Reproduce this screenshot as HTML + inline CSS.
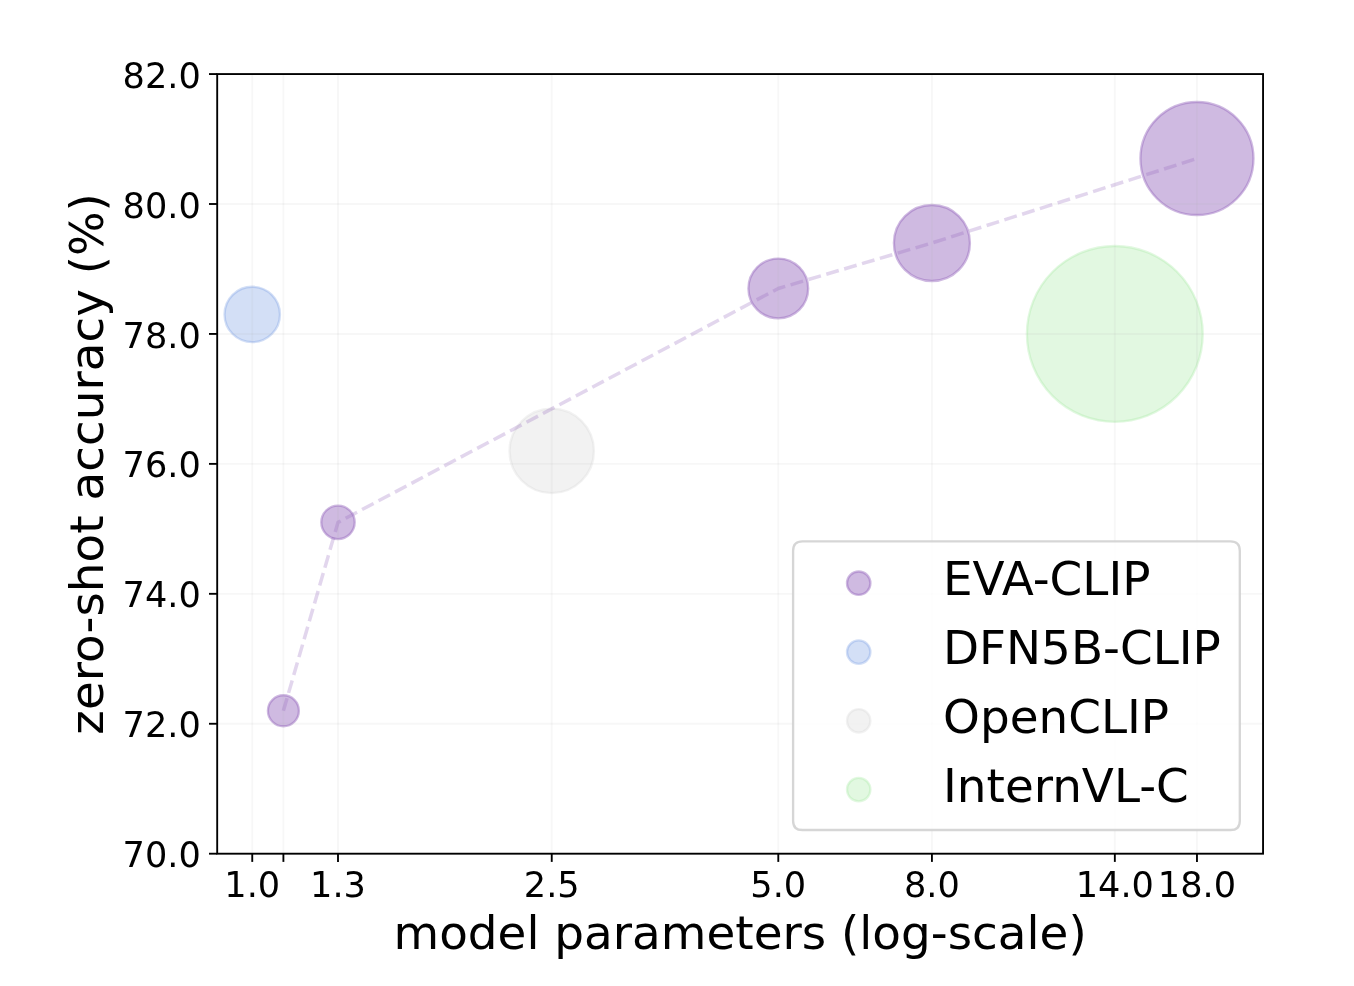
<!DOCTYPE html>
<html><head><meta charset="utf-8"><title>zero-shot accuracy vs model parameters</title>
<style>html,body{margin:0;padding:0;background:#fff}svg{display:block}text{font-family:"DejaVu Sans","Liberation Sans",sans-serif;fill:#000}</style></head><body>
<svg width="1354" height="986" viewBox="0 0 1354 986">
<rect width="1354" height="986" fill="#fff"/>
<circle cx="283.40" cy="710.77" r="15.50" fill="#9467bd" fill-opacity="0.45" stroke="#9467bd" stroke-opacity="0.45" stroke-width="2.34"/>
<circle cx="338.00" cy="522.35" r="16.70" fill="#9467bd" fill-opacity="0.45" stroke="#9467bd" stroke-opacity="0.45" stroke-width="2.34"/>
<circle cx="778.29" cy="288.46" r="29.85" fill="#9467bd" fill-opacity="0.45" stroke="#9467bd" stroke-opacity="0.45" stroke-width="2.34"/>
<circle cx="931.92" cy="242.98" r="38.00" fill="#9467bd" fill-opacity="0.45" stroke="#9467bd" stroke-opacity="0.45" stroke-width="2.34"/>
<circle cx="1196.97" cy="158.52" r="56.50" fill="#9467bd" fill-opacity="0.45" stroke="#9467bd" stroke-opacity="0.45" stroke-width="2.34"/>
<circle cx="252.25" cy="314.45" r="27.70" fill="#6c94e1" fill-opacity="0.3" stroke="#6c94e1" stroke-opacity="0.3" stroke-width="2.34"/>
<circle cx="551.74" cy="450.89" r="42.20" fill="#d3d3d3" fill-opacity="0.3" stroke="#d3d3d3" stroke-opacity="0.3" stroke-width="2.34"/>
<circle cx="1114.83" cy="333.94" r="87.90" fill="#9ee89b" fill-opacity="0.3" stroke="#9ee89b" stroke-opacity="0.3" stroke-width="2.34"/>
<line x1="252.25" x2="252.25" y1="74.06" y2="853.7" stroke="#b0b0b0" stroke-opacity="0.1" stroke-width="1.87"/>
<line x1="283.40" x2="283.40" y1="74.06" y2="853.7" stroke="#b0b0b0" stroke-opacity="0.1" stroke-width="1.87"/>
<line x1="338.00" x2="338.00" y1="74.06" y2="853.7" stroke="#b0b0b0" stroke-opacity="0.1" stroke-width="1.87"/>
<line x1="551.74" x2="551.74" y1="74.06" y2="853.7" stroke="#b0b0b0" stroke-opacity="0.1" stroke-width="1.87"/>
<line x1="778.29" x2="778.29" y1="74.06" y2="853.7" stroke="#b0b0b0" stroke-opacity="0.1" stroke-width="1.87"/>
<line x1="931.92" x2="931.92" y1="74.06" y2="853.7" stroke="#b0b0b0" stroke-opacity="0.1" stroke-width="1.87"/>
<line x1="1114.83" x2="1114.83" y1="74.06" y2="853.7" stroke="#b0b0b0" stroke-opacity="0.1" stroke-width="1.87"/>
<line x1="1196.97" x2="1196.97" y1="74.06" y2="853.7" stroke="#b0b0b0" stroke-opacity="0.1" stroke-width="1.87"/>
<line x1="217.2" x2="1263.05" y1="853.70" y2="853.70" stroke="#b0b0b0" stroke-opacity="0.1" stroke-width="1.87"/>
<line x1="217.2" x2="1263.05" y1="723.76" y2="723.76" stroke="#b0b0b0" stroke-opacity="0.1" stroke-width="1.87"/>
<line x1="217.2" x2="1263.05" y1="593.82" y2="593.82" stroke="#b0b0b0" stroke-opacity="0.1" stroke-width="1.87"/>
<line x1="217.2" x2="1263.05" y1="463.88" y2="463.88" stroke="#b0b0b0" stroke-opacity="0.1" stroke-width="1.87"/>
<line x1="217.2" x2="1263.05" y1="333.94" y2="333.94" stroke="#b0b0b0" stroke-opacity="0.1" stroke-width="1.87"/>
<line x1="217.2" x2="1263.05" y1="204.00" y2="204.00" stroke="#b0b0b0" stroke-opacity="0.1" stroke-width="1.87"/>
<line x1="217.2" x2="1263.05" y1="74.06" y2="74.06" stroke="#b0b0b0" stroke-opacity="0.1" stroke-width="1.87"/>
<polyline points="283.40,710.77 338.00,522.35 778.29,288.46 931.92,242.98 1196.97,158.52" fill="none" stroke="#9467bd" stroke-opacity="0.27" stroke-width="3.51" stroke-dasharray="13.00 5.62" stroke-linejoin="round"/>
<line x1="252.25" x2="252.25" y1="853.7" y2="861.90" stroke="#000" stroke-width="1.87"/>
<line x1="283.40" x2="283.40" y1="853.7" y2="861.90" stroke="#000" stroke-width="1.87"/>
<line x1="338.00" x2="338.00" y1="853.7" y2="861.90" stroke="#000" stroke-width="1.87"/>
<line x1="551.74" x2="551.74" y1="853.7" y2="861.90" stroke="#000" stroke-width="1.87"/>
<line x1="778.29" x2="778.29" y1="853.7" y2="861.90" stroke="#000" stroke-width="1.87"/>
<line x1="931.92" x2="931.92" y1="853.7" y2="861.90" stroke="#000" stroke-width="1.87"/>
<line x1="1114.83" x2="1114.83" y1="853.7" y2="861.90" stroke="#000" stroke-width="1.87"/>
<line x1="1196.97" x2="1196.97" y1="853.7" y2="861.90" stroke="#000" stroke-width="1.87"/>
<line x1="217.2" x2="209.00" y1="853.70" y2="853.70" stroke="#000" stroke-width="1.87"/>
<line x1="217.2" x2="209.00" y1="723.76" y2="723.76" stroke="#000" stroke-width="1.87"/>
<line x1="217.2" x2="209.00" y1="593.82" y2="593.82" stroke="#000" stroke-width="1.87"/>
<line x1="217.2" x2="209.00" y1="463.88" y2="463.88" stroke="#000" stroke-width="1.87"/>
<line x1="217.2" x2="209.00" y1="333.94" y2="333.94" stroke="#000" stroke-width="1.87"/>
<line x1="217.2" x2="209.00" y1="204.00" y2="204.00" stroke="#000" stroke-width="1.87"/>
<line x1="217.2" x2="209.00" y1="74.06" y2="74.06" stroke="#000" stroke-width="1.87"/>
<rect x="217.2" y="74.06" width="1045.85" height="779.64" fill="none" stroke="#000" stroke-width="1.87" stroke-linejoin="miter"/>
<text x="252.25" y="896.5" font-size="35.14" text-anchor="middle">1.0</text>
<text x="338.00" y="896.5" font-size="35.14" text-anchor="middle">1.3</text>
<text x="551.74" y="896.5" font-size="35.14" text-anchor="middle">2.5</text>
<text x="778.29" y="896.5" font-size="35.14" text-anchor="middle">5.0</text>
<text x="931.92" y="896.5" font-size="35.14" text-anchor="middle">8.0</text>
<text x="1114.83" y="896.5" font-size="35.14" text-anchor="middle">14.0</text>
<text x="1196.97" y="896.5" font-size="35.14" text-anchor="middle">18.0</text>
<text x="200.80" y="867.00" font-size="35.14" text-anchor="end">70.0</text>
<text x="200.80" y="737.00" font-size="35.14" text-anchor="end">72.0</text>
<text x="200.80" y="607.00" font-size="35.14" text-anchor="end">74.0</text>
<text x="200.80" y="477.00" font-size="35.14" text-anchor="end">76.0</text>
<text x="200.80" y="347.50" font-size="35.14" text-anchor="end">78.0</text>
<text x="200.80" y="218.00" font-size="35.14" text-anchor="end">80.0</text>
<text x="200.80" y="88.00" font-size="35.14" text-anchor="end">82.0</text>
<text x="740.12" y="949" font-size="46.86" text-anchor="middle">model parameters (log-scale)</text>
<text transform="translate(103,463.88) rotate(-90)" font-size="46.86" text-anchor="middle">zero-shot accuracy (%)</text>
<path d="M802.47,541.3 L1230.43,541.3 Q1239.8,541.3 1239.8,550.67 L1239.8,820.63 Q1239.8,830.0 1230.43,830.0 L802.47,830.0 Q793.1,830.0 793.1,820.63 L793.1,550.67 Q793.1,541.3 802.47,541.3 Z" fill="#fff" fill-opacity="0.8" stroke="#ccc" stroke-opacity="0.8" stroke-width="2.34"/>
<circle cx="858.70" cy="583.20" r="11.70" fill="#9467bd" fill-opacity="0.45" stroke="#9467bd" stroke-opacity="0.45" stroke-width="2.34"/>
<text x="943" y="595.10" font-size="46.86">EVA-CLIP</text>
<circle cx="858.70" cy="652.10" r="11.70" fill="#6c94e1" fill-opacity="0.3" stroke="#6c94e1" stroke-opacity="0.3" stroke-width="2.34"/>
<text x="943" y="664.00" font-size="46.86">DFN5B-CLIP</text>
<circle cx="858.70" cy="720.80" r="11.70" fill="#d3d3d3" fill-opacity="0.3" stroke="#d3d3d3" stroke-opacity="0.3" stroke-width="2.34"/>
<text x="943" y="732.70" font-size="46.86">OpenCLIP</text>
<circle cx="858.70" cy="789.60" r="11.70" fill="#9ee89b" fill-opacity="0.3" stroke="#9ee89b" stroke-opacity="0.3" stroke-width="2.34"/>
<text x="943" y="801.50" font-size="46.86">InternVL-C</text>
</svg></body></html>
